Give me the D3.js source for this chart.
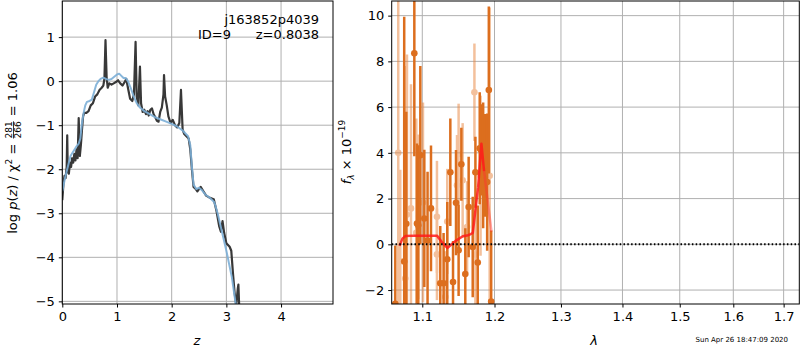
<!DOCTYPE html>
<html><head><meta charset="utf-8">
<script src="https://cdn.jsdelivr.net/npm/d3@7"></script>
<style>body{margin:0;background:#fff}svg{display:block}text{font-family:"DejaVu Sans",sans-serif}</style>
</head><body><svg id="c" width="800" height="350"></svg>
<script>
// ---- Left panel: log p(z) ----
const pzZ = [0.00,0.02,0.04,0.06,0.08,0.09,0.10,0.12,0.14,0.16,0.18,0.20,0.22,0.24,0.26,0.28,0.30,0.32,0.34,0.36,0.38,0.40,0.44,0.48,0.52,0.56,0.60,0.64,0.68,0.72,0.75,0.77,0.79,0.81,0.83,0.86,0.90,0.94,0.98,1.02,1.06,1.10,1.14,1.17,1.20,1.24,1.28,1.31,1.34,1.36,1.39,1.42,1.44,1.47,1.50,1.53,1.56,1.58,1.61,1.64,1.67,1.70,1.73,1.76,1.79,1.82,1.85,1.86,1.88,1.91,1.94,1.98,2.02,2.06,2.10,2.14,2.17,2.20,2.23,2.27,2.31,2.34,2.37,2.40,2.44,2.47,2.53,2.58,2.63,2.70,2.77,2.82,2.87,2.90,2.93,2.96,3.00,3.06,3.09,3.12,3.15,3.18,3.21,3.22,3.24];
const pzLog = [-2.70,-2.35,-2.15,-2.20,-1.95,-1.23,-2.05,-2.10,-1.85,-1.95,-1.75,-1.85,-1.65,-1.80,-1.55,-1.75,-0.84,-1.70,-1.45,-1.10,-0.80,-0.72,-0.72,-0.68,-0.55,-0.50,-0.35,-0.30,-0.20,-0.15,-0.10,0.05,0.93,0.10,-0.15,-0.05,-0.08,-0.05,-0.02,0.02,-0.05,-0.10,-0.02,0.05,-0.15,-0.40,-0.45,-0.30,0.89,-0.35,-0.55,0.33,-0.50,-0.70,-0.65,-0.75,-0.68,-0.78,-0.65,-0.62,-0.75,-0.82,-0.90,-0.92,-0.70,-0.60,-0.30,0.14,-0.35,-0.55,-0.80,-0.95,-0.88,-1.00,-1.05,-0.95,-0.20,-1.10,-1.20,-1.25,-1.30,-1.55,-2.00,-2.40,-2.45,-2.50,-2.40,-2.50,-2.60,-2.65,-2.68,-2.95,-3.30,-3.42,-3.18,-3.45,-3.68,-3.76,-3.85,-4.35,-4.80,-5.08,-4.70,-4.62,-5.30];
const fitZ = [0.00,0.05,0.10,0.15,0.20,0.25,0.30,0.33,0.36,0.39,0.42,0.45,0.50,0.54,0.58,0.62,0.66,0.70,0.75,0.80,0.85,0.90,0.95,1.00,1.04,1.08,1.12,1.16,1.20,1.25,1.30,1.36,1.42,1.50,1.60,1.70,1.80,1.90,2.00,2.10,2.20,2.30,2.34,2.37,2.40,2.45,2.50,2.55,2.62,2.70,2.78,2.84,3.00,3.10,3.17,3.20];
const fitLog = [-2.50,-2.20,-1.95,-1.70,-1.60,-1.50,-1.42,-1.30,-0.95,-0.72,-0.55,-0.47,-0.45,-0.42,-0.25,-0.08,0.00,0.05,0.08,0.05,0.03,0.05,0.10,0.15,0.17,0.12,0.07,0.07,0.00,-0.15,-0.33,-0.50,-0.60,-0.68,-0.75,-0.82,-0.87,-0.92,-0.97,-1.03,-1.12,-1.25,-1.45,-1.95,-2.35,-2.45,-2.42,-2.47,-2.58,-2.65,-2.75,-3.00,-3.85,-4.45,-5.05,-5.20];
const zTicks = [0,1,2,3,4];
const logTicks = [-5,-4,-3,-2,-1,0,1];

// ---- Right panel: spectrum ----
const darkLam = [1.0648,1.0763,1.0790,1.0895,1.0930,1.0947,1.0974,1.1027,1.1070,1.1116,1.1241,1.1286,1.1336,1.1378,1.1415,1.1456,1.1492,1.1530,1.1585,1.1632,1.1689,1.1727,1.1760,1.1788,1.1803,1.1837,1.1860,1.1894,1.1918,1.1952];
const darkF   = [-2.6,-0.75,0.9,8.35,0.91,0.83,3.9,1.13,0.17,1.57,-1.7,-1.7,-0.65,3.15,-1.65,1.82,-0.26,3.5,-1.3,1.63,-0.12,3.15,-0.8,4.2,4.13,3.45,3.45,2.72,6.75,-2.5];
const darkErr = [2.55,10.7,4.9,4.5,3.5,3.5,3.9,3.0,3.0,2.75,2.5,2.2,2.5,2.35,1.8,2.3,2.0,1.6,2.0,2.2,2.2,1.55,2.5,2.45,2.0,2.75,2.25,3.0,3.65,3.1];
const lightLam = [1.0686,1.0712,1.0777,1.0799,1.0851,1.0921,1.0947,1.1009,1.1196,1.1196,1.1309,1.1336,1.1470,1.1492,1.1548,1.1610,1.1713,1.1727,1.1800,1.1930];
const lightF   = [4.0,-0.74,-1.5,1.3,1.57,0.5,1.2,1.83,1.2,-0.44,-2.3,1.0,2.58,3.95,2.8,0.76,6.65,-0.45,3.0,3.0];
const lightErr = [8.0,4.0,9.3,7.0,5.43,5.0,3.6,4.37,2.45,2.0,2.0,2.3,2.2,2.2,2.5,2.0,2.13,2.2,3.5,7.36];
const modelLam = [1.0703,1.0740,1.0777,1.0900,1.1050,1.1196,1.1262,1.1337,1.1450,1.1550,1.1625,1.1662,1.1690,1.1765,1.1812,1.1850];
const modelF   = [-0.07,0.25,0.36,0.38,0.38,0.38,0.10,-0.16,0.15,0.35,0.40,0.45,0.50,2.5,4.4,3.2];
const modelTailLam = [1.1850,1.1956];
const modelTailF   = [3.2,0.55];
const lamTicks = [1.1,1.2,1.3,1.4,1.5,1.6,1.7];
const fTicks = [-2,0,2,4,6,8,10];

const svg = d3.select('#c');
const grid = '#b0b0b0';
const FS = 13;

function frame(g, x0, x1, y0, y1) {
  g.append('rect').attr('x', x0).attr('y', y0).attr('width', x1 - x0).attr('height', y1 - y0)
    .attr('fill', 'none').attr('stroke', '#000').attr('stroke-width', 1);
}
function axes(xs, ys, xt, yt, xfmt, yfmt, L, R, T, B) {
  const g = svg.append('g');
  g.selectAll('.gx').data(xt).join('line').attr('x1', d => xs(d)).attr('x2', d => xs(d))
    .attr('y1', T).attr('y2', B).attr('stroke', grid).attr('stroke-width', 1);
  g.selectAll('.gy').data(yt).join('line').attr('x1', L).attr('x2', R)
    .attr('y1', d => ys(d)).attr('y2', d => ys(d)).attr('stroke', grid).attr('stroke-width', 1);
  const ax = svg.append('g').attr('transform', `translate(0,${B})`)
    .call(d3.axisBottom(xs).tickValues(xt).tickFormat(xfmt).tickSize(3.5).tickPadding(4));
  const ay = svg.append('g').attr('transform', `translate(${L},0)`)
    .call(d3.axisLeft(ys).tickValues(yt).tickFormat(yfmt).tickSize(3.5).tickPadding(4));
  [ax, ay].forEach(a => {
    a.select('.domain').remove();
    a.selectAll('text').attr('font-size', FS).attr('font-family', 'DejaVu Sans').attr('fill', '#000');
    a.selectAll('line').attr('stroke', '#000');
  });
  return g;
}
const minus = s => String(s).replace('-', '\u2212');

// Left panel
const L1 = 62.3, R1 = 333, T = 1, B = 304;
const xz = d3.scaleLinear().domain([0, 4.95]).range([L1, R1]);
const yl = d3.scaleLinear().domain([-5.06, 1.82]).range([B, T]);
axes(xz, yl, zTicks, logTicks, d => d, d => minus(d), L1, R1, T, B);
svg.append('clipPath').attr('id', 'cl1').append('rect').attr('x', L1).attr('y', T).attr('width', R1 - L1).attr('height', B - T);
const lineL = d3.line().x(d => xz(d[0])).y(d => yl(d[1]));
const gl = svg.append('g').attr('clip-path', 'url(#cl1)');
gl.append('path').attr('d', lineL(d3.zip(pzZ, pzLog))).attr('fill', 'none').attr('stroke', '#383838').attr('stroke-width', 2.2).attr('stroke-linejoin', 'round');
gl.append('path').attr('d', lineL(d3.zip(fitZ, fitLog))).attr('fill', 'none').attr('stroke', '#7cafd7').attr('stroke-width', 2).attr('stroke-opacity', 0.9).attr('stroke-linejoin', 'round');
frame(svg, L1, R1, T, B);
svg.append('text').attr('x', 319).attr('y', 24).attr('text-anchor', 'end').attr('font-size', FS).text('j163852p4039');
svg.append('text').attr('x', 319).attr('y', 39).attr('text-anchor', 'end').attr('font-size', FS).attr('xml:space', 'preserve').text('ID=9      z=0.8038');
svg.append('text').attr('x', 197).attr('y', 345).attr('text-anchor', 'middle').attr('font-size', FS).attr('font-style', 'italic').text('z');

// left y-label with fraction
(function () {
  const g = svg.append('g');
  const t = g.append('text').attr('font-size', FS);
  t.append('tspan').text('log ');
  t.append('tspan').attr('font-style', 'italic').text('p');
  t.append('tspan').text('(');
  t.append('tspan').attr('font-style', 'italic').text('z');
  t.append('tspan').text(') / χ');
  t.append('tspan').attr('font-size', 9).attr('dy', -5).text('2');
  t.append('tspan').attr('dy', 5).attr('xml:space', 'preserve').text(' = ');
  const w1 = t.node().getComputedTextLength();
  const num = g.append('text').attr('font-size', 9).attr('x', w1 + 1).attr('y', -5).text('281');
  const fw = num.node().getComputedTextLength();
  g.append('text').attr('font-size', 9).attr('x', w1 + 1).attr('y', 3.5).text('266');
  g.append('line').attr('x1', w1 + 1).attr('x2', w1 + 1 + fw).attr('y1', -3.5).attr('y2', -3.5).attr('stroke', '#000').attr('stroke-width', 0.8);
  const t2 = g.append('text').attr('font-size', FS).attr('x', w1 + fw + 2).attr('y', 0).attr('xml:space', 'preserve').text(' = 1.06');
  const W = w1 + fw + 2 + t2.node().getComputedTextLength();
  g.attr('transform', `translate(17,${153 + W / 2}) rotate(-90)`);
})();

// Right panel
const L2 = 391.7, R2 = 799.3;
const xlam = d3.scaleLog().domain([1.0602, 1.7324]).range([L2, R2]);
const yf = d3.scaleLinear().domain([-2.61, 10.64]).range([B, T]);
axes(xlam, yf, lamTicks, fTicks, d => d3.format('.1f')(d), d => minus(d), L2, R2, T, B);
svg.append('clipPath').attr('id', 'cl2').append('rect').attr('x', L2).attr('y', T).attr('width', R2 - L2).attr('height', B - T);
const gr = svg.append('g').attr('clip-path', 'url(#cl2)');
function errs(lam, f, e, col, op) {
  const d = d3.zip(lam, f, e);
  const g = gr.append('g').attr('opacity', op);
  g.selectAll('line').data(d).join('line').attr('x1', d => xlam(d[0])).attr('x2', d => xlam(d[0]))
    .attr('y1', d => yf(d[1] - d[2])).attr('y2', d => yf(d[1] + d[2])).attr('stroke', col).attr('stroke-width', 2.5);
  g.selectAll('circle').data(d).join('circle').attr('cx', d => xlam(d[0])).attr('cy', d => yf(d[1])).attr('r', 3.3).attr('fill', col);
}
errs(lightLam, lightF, lightErr, '#e8823a', 0.5);
errs(darkLam, darkF, darkErr, '#dc6e1e', 1);
const lineR = d3.line().x(d => xlam(d[0])).y(d => yf(d[1]));
gr.append('path').attr('d', lineR(d3.zip(modelTailLam, modelTailF))).attr('fill', 'none').attr('stroke', '#ff3030').attr('stroke-opacity', 0.45).attr('stroke-width', 2.5);
gr.append('path').attr('d', lineR(d3.zip(modelLam, modelF))).attr('fill', 'none').attr('stroke', '#ff1a1a').attr('stroke-opacity', 0.85).attr('stroke-width', 2.5).attr('stroke-linejoin', 'round');
gr.append('line').attr('x1', L2).attr('x2', R2).attr('y1', yf(0)).attr('y2', yf(0)).attr('stroke', '#000').attr('stroke-width', 2).attr('stroke-dasharray', '1.5,2.3');
frame(svg, L2, R2, T, B);
svg.append('text').attr('x', 594).attr('y', 345).attr('text-anchor', 'middle').attr('font-size', FS).attr('font-style', 'italic').text('λ');
(function () {
  const t = svg.append('text').attr('font-size', FS).attr('text-anchor', 'middle')
    .attr('transform', 'translate(351,152) rotate(-90)');
  t.append('tspan').attr('font-style', 'italic').text('f');
  t.append('tspan').attr('font-size', 9).attr('font-style', 'italic').attr('dy', 3).text('λ');
  t.append('tspan').attr('dy', -3).attr('xml:space', 'preserve').text(' × 10');
  t.append('tspan').attr('font-size', 9).attr('dy', -6).text('\u221219');
})();
svg.append('text').attr('x', 788).attr('y', 342).attr('text-anchor', 'end').attr('font-size', 7).text('Sun Apr 26 18:47:09 2020');
</script></body></html>
